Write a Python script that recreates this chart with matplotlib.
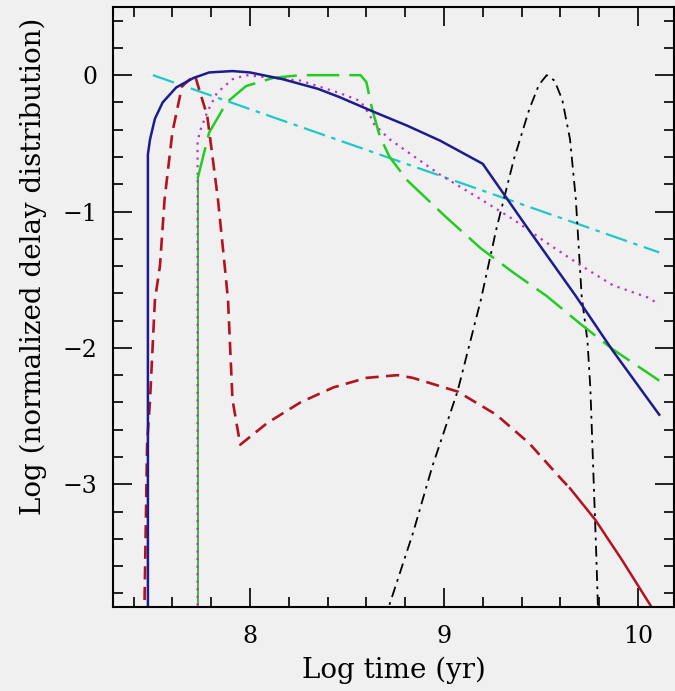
import matplotlib
matplotlib.use("Agg")
import matplotlib.pyplot as plt
from matplotlib.ticker import MultipleLocator

# (log t, log normalized DTD)
blue_x = [7.474, 7.474, 7.485, 7.51, 7.55, 7.62, 7.71, 7.79, 7.91, 8.0, 8.17, 8.35, 8.46,
          8.64, 8.81, 8.98, 9.20, 9.44, 9.68, 9.87, 10.11]
blue_y = [-4.0, -0.58, -0.47, -0.32, -0.20, -0.09, -0.02, 0.02, 0.03, 0.02, -0.03, -0.10, -0.16,
          -0.27, -0.37, -0.48, -0.65, -1.14, -1.62, -2.02, -2.49]

red_x = [7.455, 7.47, 7.485, 7.51, 7.536, 7.56, 7.60, 7.65, 7.716, 7.78, 7.835, 7.87, 7.887,
         7.91, 7.95, 8.09, 8.26, 8.43, 8.60, 8.76, 8.84, 9.07, 9.27, 9.44, 9.61, 9.65]
red_y = [-4.0, -2.70, -2.38, -1.65, -1.40, -0.91, -0.42, -0.08, 0.0, -0.30, -0.91, -1.40, -1.65,
         -2.38, -2.71, -2.55, -2.40, -2.29, -2.22, -2.20, -2.22, -2.32, -2.49, -2.70, -2.97, -3.03]
red_tail_x = [9.65, 9.78, 9.92, 10.07, 10.09]
red_tail_y = [-3.03, -3.26, -3.56, -3.90, -3.95]

green_x = [7.73, 7.73]
green_y = [-4.0, -0.76]
green_curve_x = [7.73, 7.79, 7.88, 7.98, 8.12, 8.26, 8.57, 8.60, 8.63, 8.67, 8.72, 8.81, 9.01,
                 9.19, 9.36, 9.53, 9.70, 9.87, 10.11]
green_curve_y = [-0.76, -0.42, -0.20, -0.08, -0.02, 0.0, 0.0, -0.05, -0.25, -0.45, -0.60, -0.77, -1.04,
                 -1.27, -1.45, -1.62, -1.82, -2.01, -2.24]

magenta_x = [7.73, 7.73, 7.74, 7.78, 7.83, 7.91, 7.98, 8.26, 8.46, 8.57, 8.62, 8.64, 8.72, 8.81,
             8.98, 9.19, 9.36, 9.53, 9.70, 9.87, 10.05, 10.11]
magenta_y = [-4.0, -0.50, -0.42, -0.27, -0.13, -0.03, 0.0, -0.04, -0.13, -0.19, -0.30, -0.36, -0.47, -0.56,
             -0.73, -0.91, -1.06, -1.23, -1.39, -1.54, -1.63, -1.68]

cyan_x = [7.50, 10.11]
cyan_y = [0.0, -1.30]

black_x = [8.70, 8.72, 8.84, 8.94, 9.07, 9.19, 9.27, 9.36, 9.44, 9.49, 9.53, 9.57, 9.61, 9.65,
           9.68, 9.71, 9.74, 9.755, 9.77, 9.785, 9.795]
black_y = [-4.0, -3.88, -3.36, -2.87, -2.32, -1.65, -1.13, -0.62, -0.25, -0.07, 0.0, -0.04, -0.18, -0.47,
           -0.91, -1.62, -1.95, -2.30, -2.90, -3.50, -3.95]

bg = "#f0f0f0"
plt.rcParams['font.family'] = ['DejaVu Serif']

fig = plt.figure(figsize=(6.75, 6.91), dpi=100, facecolor=bg)
ax = fig.add_axes([0.1674, 0.1216, 0.8311, 0.8683], facecolor=bg)

ax.plot(cyan_x, cyan_y, color="#1ec8c8", lw=1.6, dashes=(10, 3, 2, 3))
ax.plot(black_x, black_y, color="black", lw=1.3, dashes=(6, 3, 1.5, 3))
ax.plot(green_x, green_y, color="#22bb22", lw=1.3)
ax.plot(magenta_x, magenta_y, color="#c030c8", lw=1.6, dashes=(1, 2.4))
ax.plot(green_curve_x, green_curve_y, color="#22cc22", lw=1.8, dashes=(13, 4))
ax.plot(red_x, red_y, color="#b3121f", lw=1.9, dashes=(5, 2.8))
ax.plot(red_tail_x, red_tail_y, color="#b3121f", lw=1.8)
ax.plot(blue_x, blue_y, color="#1c1c8c", lw=1.8)

ax.set_xlim(7.294, 10.186)
ax.set_ylim(-3.9, 0.5)

ax.xaxis.set_major_locator(MultipleLocator(1))
ax.xaxis.set_minor_locator(MultipleLocator(0.2))
ax.yaxis.set_major_locator(MultipleLocator(1))
ax.yaxis.set_minor_locator(MultipleLocator(0.2))
ax.tick_params(which='both', direction='in', top=True, right=True, width=1.3, color='#111111')
ax.tick_params(which='major', length=14, labelsize=17)
ax.tick_params(axis='x', which='major', pad=13)
ax.tick_params(axis='y', which='major', pad=11)
ax.tick_params(which='minor', length=7)
for s in ax.spines.values():
    s.set_linewidth(1.5)

ax.set_xlabel("Log time (yr)", fontsize=20)
ax.set_ylabel("Log (normalized delay distribution)", fontsize=20)
ax.xaxis.set_label_coords(0.501, -0.082)
ax.yaxis.set_label_coords(-0.118, 0.567)

fig.savefig("out.png", dpi=100, facecolor=bg)
